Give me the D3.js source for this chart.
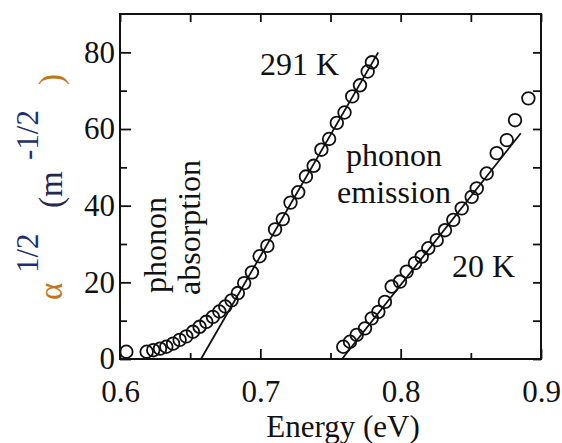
<!DOCTYPE html>
<html>
<head>
<meta charset="utf-8">
<script src="https://cdn.jsdelivr.net/npm/d3@7"></script>
<style>
    body { margin: 0; background: #fff; }
    .axis path { display: none; }
    .axis line { stroke: #111; stroke-width: 1.8; }
    .axis text { fill: #111; }
    .point { fill: none; stroke: #111; stroke-width: 1.8; }
    .fit { fill: none; stroke: #111; stroke-width: 1.8; }
    .note { fill: #111; }
</style>
</head>
<body>
<svg id="graphSVG" width="562" height="443"></svg>
<script>
// 291 K measured points
const energy291 = [0.6045, 0.6190, 0.6237, 0.6285, 0.6330, 0.6378, 0.6425, 0.6472, 0.6520, 0.6567,
    0.6615, 0.6662, 0.6708, 0.6750, 0.6795, 0.6840, 0.6885, 0.6940, 0.6995, 0.7050, 0.7105, 0.7160,
    0.7215, 0.7270, 0.7325, 0.7380, 0.7435, 0.7490, 0.7545, 0.7600, 0.7655, 0.7710, 0.7765, 0.7795];
const alpha291 = [1.9, 1.9, 2.3, 2.7, 3.2, 4.0, 5.0, 5.9, 7.1, 8.4,
    9.7, 11.0, 12.4, 13.7, 15.3, 17.2, 19.8, 22.6, 26.8, 29.5, 33.8, 36.5,
    40.8, 43.5, 47.6, 50.4, 54.6, 57.4, 61.6, 64.3, 68.5, 71.4, 75.0, 77.4];

// 20 K measured points
const energy20 = [0.7591, 0.7639, 0.7687, 0.7746, 0.7794, 0.7841, 0.7888, 0.7936, 0.7995, 0.8043,
    0.8102, 0.8150, 0.8197, 0.8257, 0.8316, 0.8375, 0.8435, 0.8506, 0.8542, 0.8613, 0.8684, 0.8756,
    0.8815, 0.8910];
const alpha20 = [3.2, 4.5, 6.3, 8.0, 10.6, 12.3, 14.9, 18.9, 20.2, 22.8,
    25.0, 26.7, 28.9, 31.0, 33.6, 36.3, 39.3, 42.3, 44.5, 48.4, 53.7, 57.1,
    62.3, 68.0];

// straight line fits
const fitEnergy291 = [0.6577, 0.7840];
const fitAlpha291 = [0, 80];
const fitEnergy20 = [0.7582, 0.8856];
const fitAlpha20 = [0, 58.9];

const xTicks = [0.6, 0.7, 0.8, 0.9];
const xMinor = [0.65, 0.75, 0.85];
const yTicks = [0, 20, 40, 60, 80];
const yMinor = [10, 30, 50, 70];

const FONT = 'Liberation Serif';

const svg = d3.select('svg');

const marginLeft = 120, marginTop = 14;
const width = 421, height = 345;

const chart = svg.append('g')
    .attr('transform', `translate(${marginLeft}, ${marginTop})`);

const xScale = d3.scaleLinear()
    .domain([0.6, 0.9])
    .range([0, width]);

const yScale = d3.scaleLinear()
    .domain([0, 90])
    .range([height, 0]);

// frame
chart.append('rect')
    .attr('width', width)
    .attr('height', height)
    .attr('fill', 'none')
    .attr('stroke', '#111')
    .attr('stroke-width', 2);

// ticks, all pointing inward
chart.append('g')
    .attr('class', 'axis')
    .attr('transform', `translate(0, ${height})`)
    .call(d3.axisBottom(xScale).tickValues(xTicks).tickSizeInner(-10).tickSizeOuter(0)
        .tickPadding(21).tickFormat(d3.format('.1f')));
chart.append('g')
    .attr('class', 'axis')
    .attr('transform', `translate(0, ${height})`)
    .call(d3.axisBottom(xScale).tickValues(xMinor).tickSizeInner(-6).tickSizeOuter(0).tickFormat(''));
chart.append('g')
    .attr('class', 'axis')
    .call(d3.axisTop(xScale).tickValues(xTicks.concat(xMinor)).tickSizeInner(-8).tickSizeOuter(0).tickFormat(''));

chart.append('g')
    .attr('class', 'axis')
    .call(d3.axisLeft(yScale).tickValues(yTicks).tickSizeInner(-11).tickSizeOuter(0).tickPadding(5));
chart.append('g')
    .attr('class', 'axis')
    .call(d3.axisLeft(yScale).tickValues(yMinor).tickSizeInner(-7).tickSizeOuter(0).tickFormat(''));
chart.append('g')
    .attr('class', 'axis')
    .attr('transform', `translate(${width}, 0)`)
    .call(d3.axisRight(yScale).tickValues(yTicks.concat(yMinor)).tickSizeInner(-8).tickSizeOuter(0).tickFormat(''));

// fit lines
const line = d3.line()
    .x((d) => xScale(d[0]))
    .y((d) => yScale(d[1]));

chart.append('path')
    .attr('class', 'fit')
    .attr('d', line(d3.zip(fitEnergy291, fitAlpha291)));
chart.append('path')
    .attr('class', 'fit')
    .attr('d', line(d3.zip(fitEnergy20, fitAlpha20)));

// measured points
chart.selectAll('.p291')
    .data(d3.zip(energy291, alpha291))
    .enter()
    .append('circle')
    .attr('class', 'point')
    .attr('cx', (d) => xScale(d[0]))
    .attr('cy', (d) => yScale(d[1]))
    .attr('r', 6.3);

chart.selectAll('.p20')
    .data(d3.zip(energy20, alpha20))
    .enter()
    .append('circle')
    .attr('class', 'point')
    .attr('cx', (d) => xScale(d[0]))
    .attr('cy', (d) => yScale(d[1]))
    .attr('r', 6.3);

// annotations
function note(x, y, txt, anchor = 'start', rotate = false) {
    const t = svg.append('text')
        .attr('class', 'note')
        .attr('font-size', 32)
        .attr('text-anchor', anchor)
        .text(txt);
    if (rotate) {
        t.attr('transform', 'rotate(-90)').attr('x', -y).attr('y', x);
    } else {
        t.attr('x', x).attr('y', y);
    }
    return t;
}

note(260, 75, '291 K');
note(452, 277, '20 K');
note(394, 166, 'phonon', 'middle');
note(394, 203, 'emission', 'middle');
note(166, 293, 'phonon', 'start', true);
note(200, 295, 'absorption', 'start', true);

// axis titles
svg.append('text')
    .attr('x', 343)
    .attr('y', 437)
    .attr('text-anchor', 'middle')
    .attr('font-size', 31)
    .attr('fill', '#111')
    .text('Energy (eV)');

const yLabel = svg.append('text')
    .attr('transform', 'rotate(-90)')
    .attr('font-size', 33);
yLabel.append('tspan').attr('x', -300).attr('y', 62).attr('fill', '#c27419').text('α');
yLabel.append('tspan').attr('x', -273).attr('y', 38).attr('fill', '#1d2f6e').attr('font-size', 31).text('1/2');
yLabel.append('tspan').attr('x', -208).attr('y', 62).attr('fill', '#26284a').text('(m');
yLabel.append('tspan').attr('x', -160).attr('y', 38).attr('fill', '#1d2f6e').attr('font-size', 31).text('-1/2');
yLabel.append('tspan').attr('x', -85).attr('y', 62).attr('fill', '#c27419').text(')');

// serif face everywhere (inline style wins over the axis defaults)
svg.selectAll('text')
    .attr('font-family', FONT)
    .style('font-family', FONT);
chart.selectAll('.axis')
    .attr('font-family', FONT)
    .attr('font-size', 31);
</script>
</body>
</html>
